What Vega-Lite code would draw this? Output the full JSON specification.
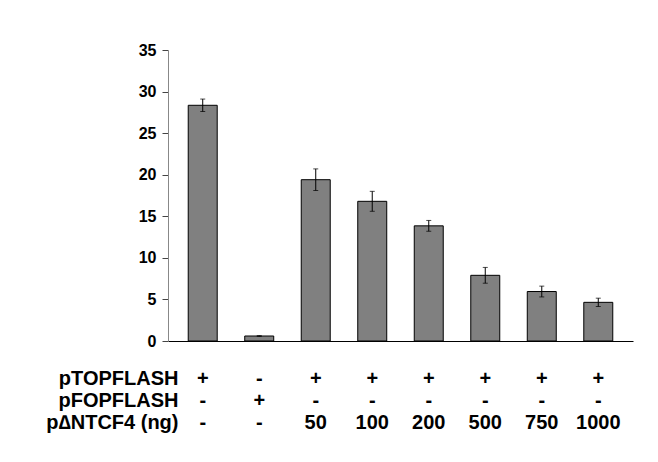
{
  "$schema": "https://vega.github.io/schema/vega-lite/v6.json",
  "autosize": {"type": "none"},
  "padding": {"left": 168, "top": 50, "right": 25, "bottom": 121},
  "width": 465,
  "height": 291,
  "background": "white",
  "config": {
    "view": {"stroke": null},
    "font": "Liberation Sans",
    "axis": {"grid": false, "labelFont": "Liberation Sans", "titleFont": "Liberation Sans"}
  },
  "data": {
    "values": [
      {"setup": "+|-|-", "value": 28.35, "err": 0.75},
      {"setup": "-|+|-", "value": 0.6, "err": 0.05},
      {"setup": "+|-|50", "value": 19.4, "err": 1.3},
      {"setup": "+|-|100", "value": 16.8, "err": 1.2},
      {"setup": "+|-|200", "value": 13.85, "err": 0.65},
      {"setup": "+|-|500", "value": 7.9, "err": 0.95},
      {"setup": "+|-|750", "value": 5.95, "err": 0.65},
      {"setup": "+|-|1000", "value": 4.65, "err": 0.5}
    ]
  },
  "encoding": {
    "x": {
      "field": "setup",
      "type": "nominal",
      "sort": null,
      "scale": {"paddingInner": 0.487, "paddingOuter": 0.358},
      "axis": {
        "labelExpr": "split(datum.value, '|')",
        "labelAngle": 0,
        "labelFontSize": 20,
        "labelFontWeight": "bold",
        "labelColor": "black",
        "labelLineHeight": 22,
        "labelPadding": 27,
        "labelBaseline": "top",
        "ticks": false,
        "domainColor": "black",
        "domainWidth": 1,
        "title": ["pTOPFLASH", "pFOPFLASH", "p∆NTCF4 (ng)"],
        "titleFontSize": 20,
        "titleFontWeight": "bold",
        "titleColor": "black",
        "titleLineHeight": 22,
        "titleAlign": "right",
        "titleAnchor": "start",
        "titleBaseline": "top",
        "titleX": 10,
        "titleY": 27
      }
    }
  },
  "layer": [
    {
      "mark": {"type": "bar", "fill": "#808080", "stroke": "black", "strokeWidth": 1},
      "encoding": {
        "y": {
          "field": "value",
          "type": "quantitative",
          "scale": {"domain": [0, 35], "nice": false},
          "axis": {
            "values": [0, 5, 10, 15, 20, 25, 30, 35],
            "title": null,
            "labelFontSize": 16,
            "labelFontWeight": "bold",
            "labelColor": "black",
            "labelPadding": 6,
            "tickSize": 6,
            "tickColor": "#444444",
            "domainColor": "#888888"
          }
        }
      }
    },
    {
      "mark": {"type": "errorbar", "ticks": {"size": 5, "color": "black"}, "rule": {"color": "black", "strokeWidth": 1}},
      "encoding": {
        "y": {"field": "value", "type": "quantitative"},
        "yError": {"field": "err"}
      }
    }
  ]
}
